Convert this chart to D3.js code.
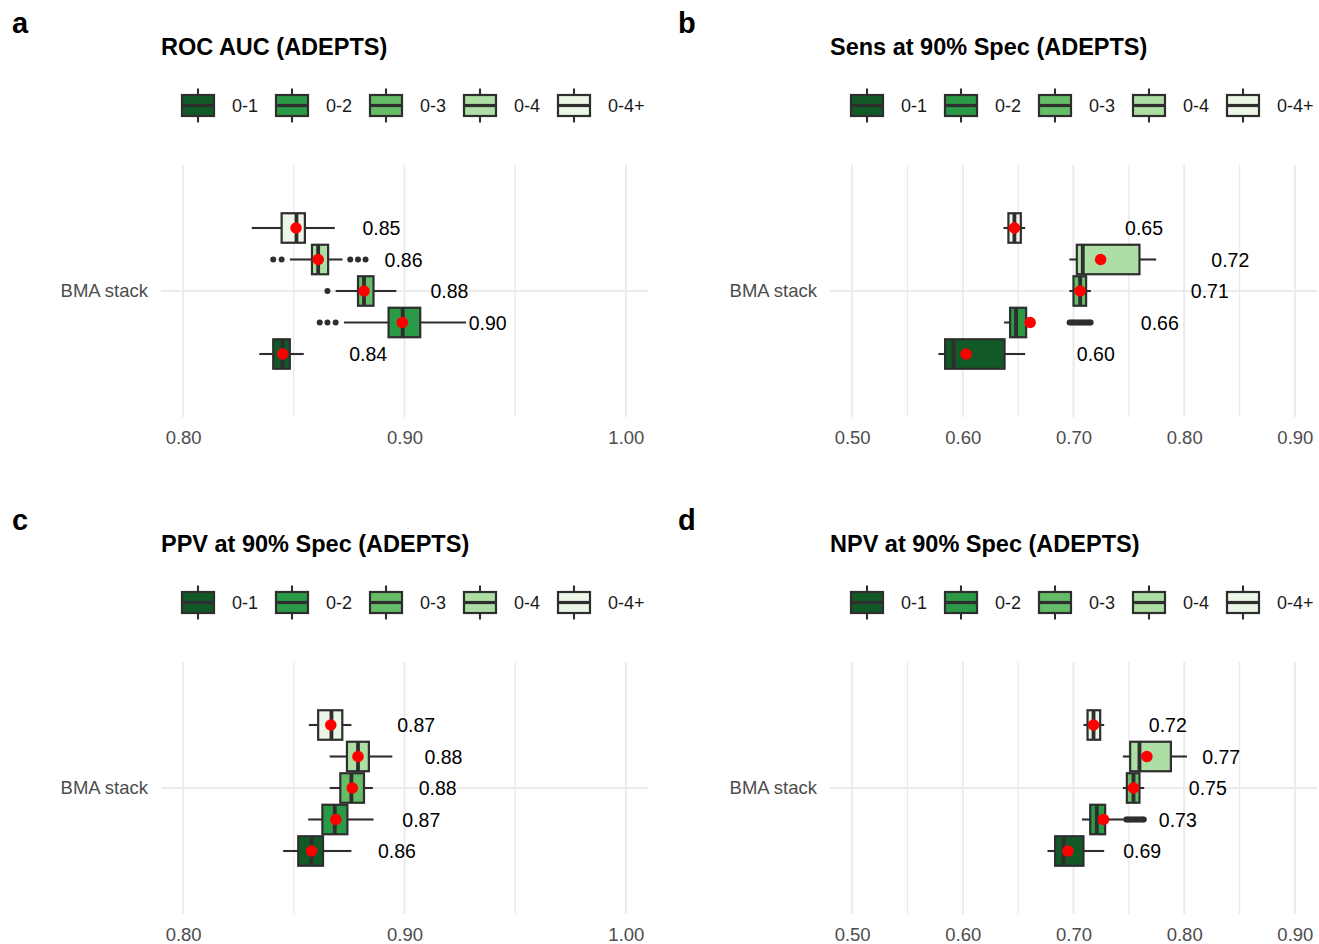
<!DOCTYPE html>
<html>
<head>
<meta charset="utf-8">
<script src="https://cdn.jsdelivr.net/npm/d3@7"></script>
<style>
  html, body { margin: 0; padding: 0; background: #ffffff; }
  svg { display: block; font-family: "Liberation Sans", Arial, Helvetica, sans-serif; }
</style>
</head>
<body>
<script>
// ---------------- DATA ----------------
const categories = ["BMA stack"];
const groups = ["0-1", "0-2", "0-3", "0-4", "0-4+"];
const groupFills = ["#115a28", "#2a9a47", "#66bd68", "#addea4", "#ebf6e6"];

// Panel a: ROC AUC
const aucLow     = [0.8344, 0.8727, 0.8689, 0.8482, 0.8310];
const aucQ1      = [0.8407, 0.8928, 0.8790, 0.8582, 0.8445];
const aucMedian  = [0.8449, 0.8992, 0.8817, 0.8610, 0.8512];
const aucQ3      = [0.8482, 0.9071, 0.8860, 0.8655, 0.8550];
const aucHigh    = [0.8545, 0.9278, 0.8963, 0.8720, 0.8685];
const aucMean    = [0.8450, 0.8990, 0.8817, 0.8610, 0.8510];
const aucOutliers = [[], [0.8617, 0.8652, 0.8689], [0.8652], [0.8407, 0.8445, 0.8755, 0.8790, 0.8824], []];
const aucLabels  = ["0.84", "0.90", "0.88", "0.86", "0.85"];
const aucLimits  = [0.79, 1.01];
const aucMajorTicks = [0.80, 0.90, 1.00];
const aucMinorTicks = [0.85, 0.95];
const aucLabelNudge = 0.03;

// Panel b: Sens at 90% Spec
const sensLow    = [0.5780, 0.6373, 0.6963, 0.6963, 0.6367];
const sensQ1     = [0.5840, 0.6427, 0.7000, 0.7030, 0.6412];
const sensMedian = [0.5916, 0.6481, 0.7060, 0.7084, 0.6466];
const sensQ3     = [0.6377, 0.6572, 0.7114, 0.7596, 0.6524];
const sensHigh   = [0.6563, 0.6600, 0.7157, 0.7747, 0.6563];
const sensMean   = [0.6030, 0.6608, 0.7060, 0.7245, 0.6466];
const sensOutliers = [[], [0.6965, 0.6980, 0.6995, 0.7010, 0.7025, 0.7040, 0.7055, 0.7070, 0.7085, 0.7100, 0.7115, 0.7130, 0.7145, 0.7155], [], [], []];
const sensLabels = ["0.60", "0.66", "0.71", "0.72", "0.65"];
const sensLimits = [0.48, 0.92];
const sensMajorTicks = [0.50, 0.60, 0.70, 0.80, 0.90];
const sensMinorTicks = [0.55, 0.65, 0.75, 0.85];
const sensLabelNudge = 0.10;

// Panel c: PPV at 90% Spec
const ppvLow     = [0.8452, 0.8565, 0.8662, 0.8662, 0.8568];
const ppvQ1      = [0.8520, 0.8629, 0.8710, 0.8740, 0.8610];
const ppvMedian  = [0.8580, 0.8685, 0.8760, 0.8790, 0.8670];
const ppvQ3      = [0.8632, 0.8742, 0.8817, 0.8839, 0.8719];
const ppvHigh    = [0.8760, 0.8860, 0.8857, 0.8945, 0.8760];
const ppvMean    = [0.8580, 0.8690, 0.8764, 0.8790, 0.8667];
const ppvOutliers = [[], [], [], [], []];
const ppvLabels  = ["0.86", "0.87", "0.88", "0.88", "0.87"];
const ppvLimits  = [0.79, 1.01];
const ppvMajorTicks = [0.80, 0.90, 1.00];
const ppvMinorTicks = [0.85, 0.95];
const ppvLabelNudge = 0.03;

// Panel d: NPV at 90% Spec
const npvLow     = [0.6765, 0.7076, 0.7446, 0.7446, 0.7090];
const npvQ1      = [0.6834, 0.7151, 0.7482, 0.7512, 0.7127];
const npvMedian  = [0.6910, 0.7211, 0.7542, 0.7596, 0.7181];
const npvQ3      = [0.7090, 0.7286, 0.7596, 0.7880, 0.7241];
const npvHigh    = [0.7277, 0.7452, 0.7639, 0.8025, 0.7277];
const npvMean    = [0.6949, 0.7271, 0.7542, 0.7663, 0.7181];
const npvOutliers = [[], [0.7476, 0.7490, 0.7505, 0.7520, 0.7535, 0.7550, 0.7565, 0.7580, 0.7595, 0.7610, 0.7625, 0.7635], [], [], []];
const npvLabels  = ["0.69", "0.73", "0.75", "0.77", "0.72"];
const npvLimits  = [0.48, 0.92];
const npvMajorTicks = [0.50, 0.60, 0.70, 0.80, 0.90];
const npvMinorTicks = [0.55, 0.65, 0.75, 0.85];
const npvLabelNudge = 0.05;

// ---------------- PANELS ----------------
const panels = [
  { letter: "a", title: "ROC AUC (ADEPTS)", col: 0, row: 0,
    low: aucLow, q1: aucQ1, med: aucMedian, q3: aucQ3, high: aucHigh, mean: aucMean,
    out: aucOutliers, labels: aucLabels, limits: aucLimits, major: aucMajorTicks, minor: aucMinorTicks, nudge: aucLabelNudge },
  { letter: "b", title: "Sens at 90% Spec (ADEPTS)", col: 1, row: 0,
    low: sensLow, q1: sensQ1, med: sensMedian, q3: sensQ3, high: sensHigh, mean: sensMean,
    out: sensOutliers, labels: sensLabels, limits: sensLimits, major: sensMajorTicks, minor: sensMinorTicks, nudge: sensLabelNudge },
  { letter: "c", title: "PPV at 90% Spec (ADEPTS)", col: 0, row: 1,
    low: ppvLow, q1: ppvQ1, med: ppvMedian, q3: ppvQ3, high: ppvHigh, mean: ppvMean,
    out: ppvOutliers, labels: ppvLabels, limits: ppvLimits, major: ppvMajorTicks, minor: ppvMinorTicks, nudge: ppvLabelNudge },
  { letter: "d", title: "NPV at 90% Spec (ADEPTS)", col: 1, row: 1,
    low: npvLow, q1: npvQ1, med: npvMedian, q3: npvQ3, high: npvHigh, mean: npvMean,
    out: npvOutliers, labels: npvLabels, limits: npvLimits, major: npvMajorTicks, minor: npvMinorTicks, nudge: npvLabelNudge }
];

// ---------------- LAYOUT ----------------
const W = 1319, H = 944;
const colLeft = [161, 830];
const colLetterX = [12, 678];
const plotW = 487;
const rowShift = 497;
const plotTop0 = 165, plotH = 252;
const titleY0 = 55, letterY0 = 33, legendY0 = 105.5;
const ink = "#2e2e2e";
const gridCol = "#ebebeb";

const svg = d3.select("body").append("svg").attr("width", W).attr("height", H);
svg.append("rect").attr("width", W).attr("height", H).attr("fill", "#ffffff");

panels.forEach(p => {
  const left = colLeft[p.col], right = left + plotW;
  const off = p.row * rowShift;
  const top = plotTop0 + off, bottom = top + plotH;
  const g = svg.append("g");

  const x = d3.scaleLinear().domain(p.limits).range([left, right]);
  const y = d3.scaleBand().domain(categories).range([top, bottom]).paddingInner(0.25).paddingOuter(0.225);
  const yg = d3.scaleBand().domain(groups.slice().reverse()).range([0, y.bandwidth()]).padding(0);

  // letter + title
  g.append("text").attr("x", colLetterX[p.col]).attr("y", letterY0 + off)
    .attr("font-size", 29).attr("font-weight", "bold").attr("fill", "#000").text(p.letter);
  g.append("text").attr("x", left).attr("y", titleY0 + off)
    .attr("font-size", 23.5).attr("font-weight", "bold").attr("fill", "#000").text(p.title);

  // legend
  const lg = g.append("g");
  groups.forEach((grp, i) => {
    const kx = left + 21 + i * 94;
    const cy = legendY0 + off;
    lg.append("line").attr("x1", kx + 16).attr("x2", kx + 16).attr("y1", cy - 17).attr("y2", cy + 17)
      .attr("stroke", ink).attr("stroke-width", 2.1);
    lg.append("rect").attr("x", kx).attr("y", cy - 10.5).attr("width", 32).attr("height", 21)
      .attr("fill", groupFills[i]).attr("stroke", ink).attr("stroke-width", 2.2);
    lg.append("line").attr("x1", kx).attr("x2", kx + 32).attr("y1", cy).attr("y2", cy)
      .attr("stroke", ink).attr("stroke-width", 3.2);
    lg.append("text").attr("x", kx + 50).attr("y", cy).attr("dy", "0.35em")
      .attr("font-size", 18).attr("fill", "#1a1a1a").text(grp);
  });

  // grid
  const grid = g.append("g");
  p.minor.forEach(t => {
    grid.append("line").attr("x1", x(t)).attr("x2", x(t)).attr("y1", top).attr("y2", bottom)
      .attr("stroke", gridCol).attr("stroke-width", 1.4);
  });
  p.major.forEach(t => {
    grid.append("line").attr("x1", x(t)).attr("x2", x(t)).attr("y1", top).attr("y2", bottom)
      .attr("stroke", gridCol).attr("stroke-width", 2);
  });
  categories.forEach(c => {
    const yc = y(c) + y.bandwidth() / 2;
    grid.append("line").attr("x1", left).attr("x2", right).attr("y1", yc).attr("y2", yc)
      .attr("stroke", gridCol).attr("stroke-width", 2);
  });

  // axes
  const xa = g.append("g").attr("transform", `translate(0,${bottom})`)
    .call(d3.axisBottom(x).tickValues(p.major).tickFormat(d3.format(".2f")).tickSize(0).tickPadding(14));
  xa.select(".domain").remove();
  xa.selectAll("text").attr("font-size", 18.5).attr("fill", "#4d4d4d").attr("font-family", null);

  const ya = g.append("g").attr("transform", `translate(${left},0)`)
    .call(d3.axisLeft(y).tickSize(0).tickPadding(13));
  ya.select(".domain").remove();
  ya.selectAll("text").attr("font-size", 18.5).attr("fill", "#4d4d4d").attr("font-family", null);

  // boxes
  const bg = g.append("g");
  groups.forEach((grp, i) => {
    const by = y(categories[0]) + yg(grp);
    const bh = yg.bandwidth();
    const cy = by + bh / 2;
    // whiskers
    bg.append("line").attr("x1", x(p.low[i])).attr("x2", x(p.q1[i])).attr("y1", cy).attr("y2", cy)
      .attr("stroke", ink).attr("stroke-width", 2.1);
    bg.append("line").attr("x1", x(p.q3[i])).attr("x2", x(p.high[i])).attr("y1", cy).attr("y2", cy)
      .attr("stroke", ink).attr("stroke-width", 2.1);
    // box
    bg.append("rect").attr("x", x(p.q1[i])).attr("y", by + 1).attr("width", x(p.q3[i]) - x(p.q1[i]))
      .attr("height", bh - 2).attr("fill", groupFills[i]).attr("stroke", ink).attr("stroke-width", 2.2);
    // median
    bg.append("line").attr("x1", x(p.med[i])).attr("x2", x(p.med[i])).attr("y1", by + 1).attr("y2", by + bh - 1)
      .attr("stroke", ink).attr("stroke-width", 3.8);
    // outliers
    p.out[i].forEach(v => {
      bg.append("circle").attr("cx", x(v)).attr("cy", cy).attr("r", 3).attr("fill", ink);
    });
  });
  // mean points + labels
  groups.forEach((grp, i) => {
    const cy = y(categories[0]) + yg(grp) + yg.bandwidth() / 2;
    bg.append("circle").attr("cx", x(p.mean[i])).attr("cy", cy).attr("r", 5.8).attr("fill", "#ff0000");
    bg.append("text").attr("x", x(p.mean[i] + p.nudge)).attr("y", cy).attr("dy", "0.36em")
      .attr("font-size", 19.5).attr("fill", "#000").text(p.labels[i]);
  });
});
</script>
</body>
</html>
